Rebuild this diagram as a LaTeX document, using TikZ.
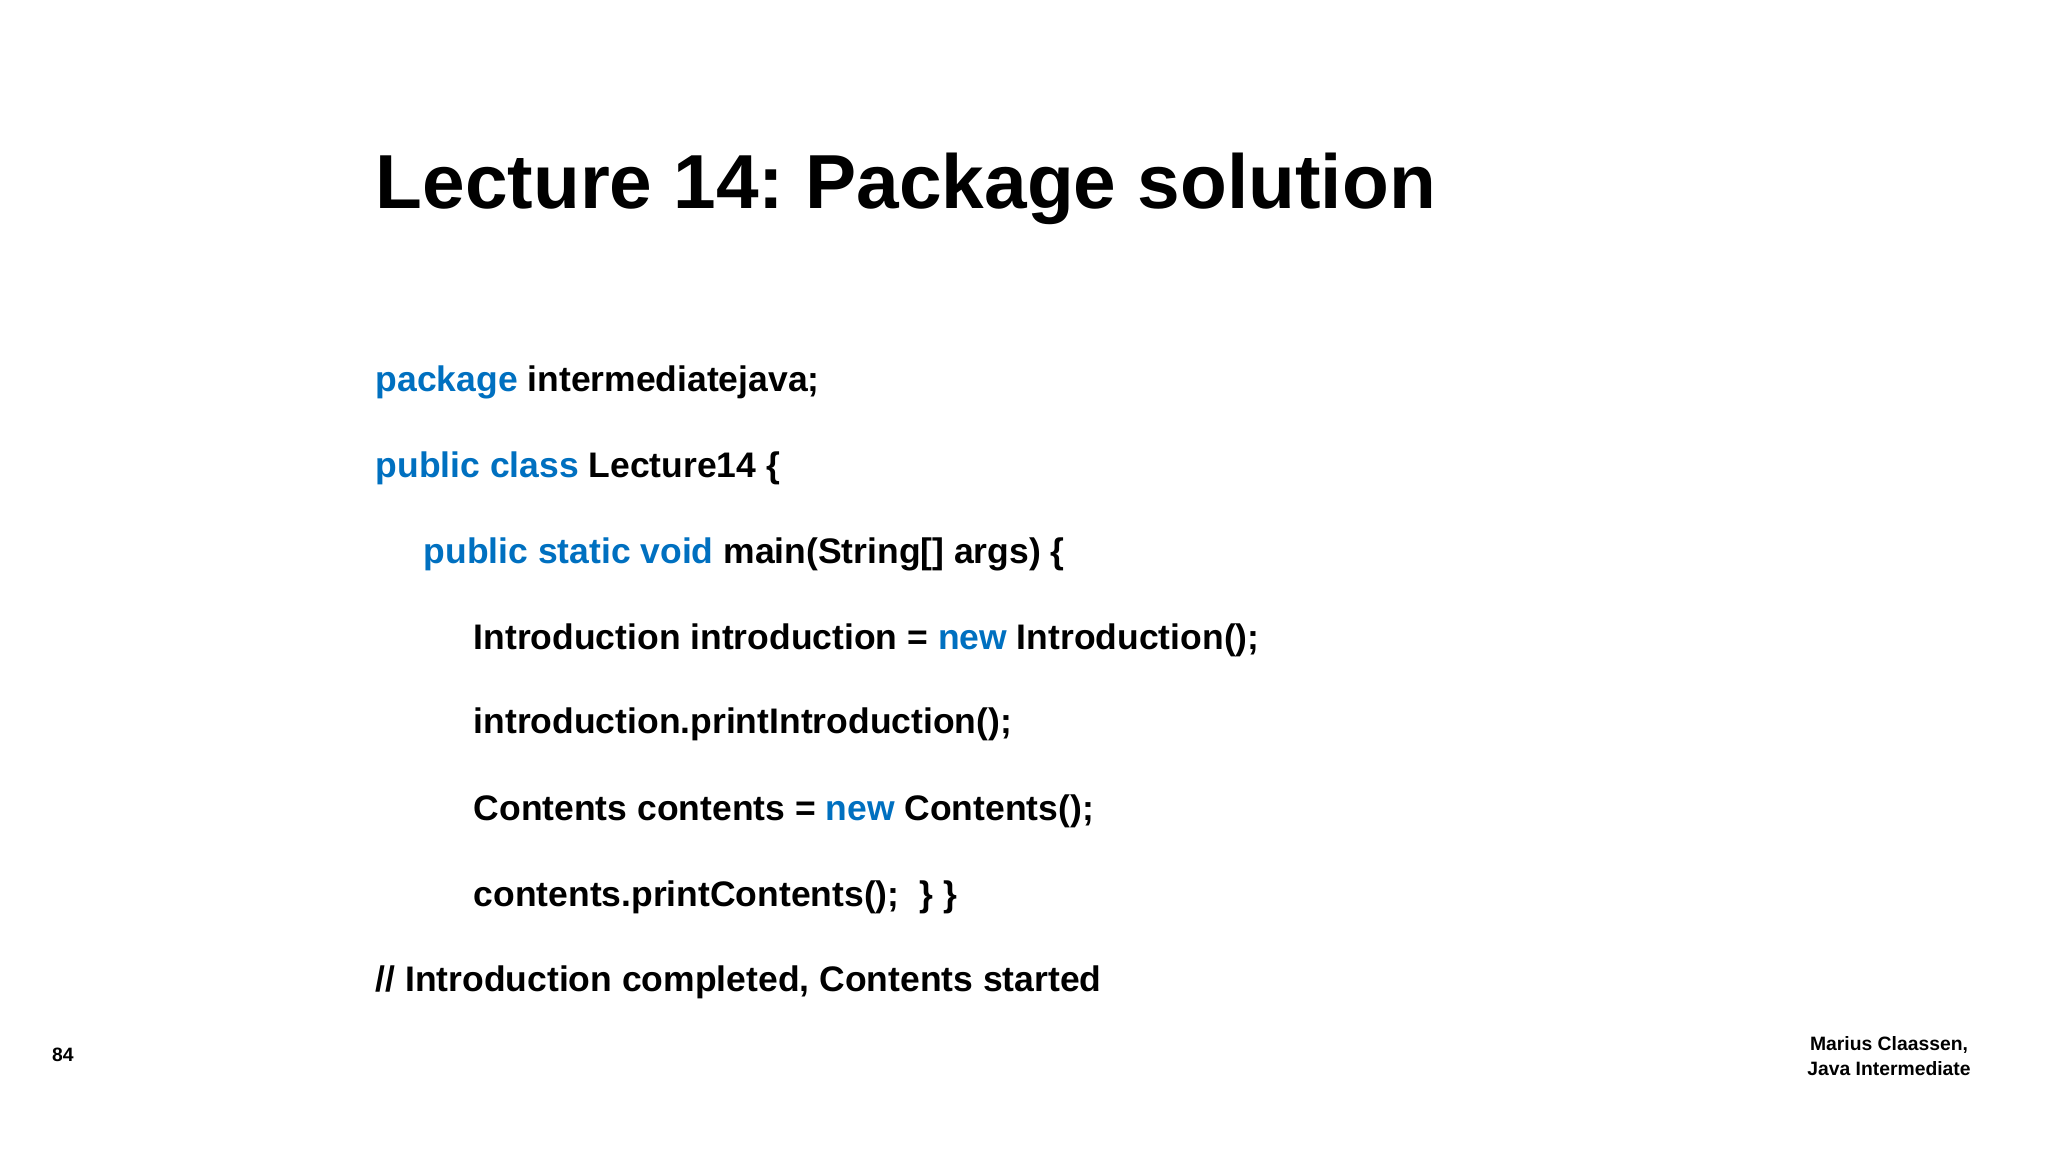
\documentclass[tikz,border=0pt]{standalone}
\usepackage{fontspec}
\setmainfont{Liberation Sans}
\usetikzlibrary{positioning}
\frenchspacing
\definecolor{keywordColor}{RGB}{0,112,192}
\tikzstyle{slideTitle} = [anchor=base west, inner sep=0, font=\fontsize{21.8}{26}\selectfont\bfseries]
\tikzstyle{codeLine} = [anchor=base west, inner sep=0, font=\fontsize{10.1}{12}\selectfont\bfseries]
\tikzstyle{footText} = [inner sep=0, font=\fontsize{5.5}{7}\selectfont\bfseries, align=center]
\newcommand{\kw}[1]{\textcolor{keywordColor}{#1}}
\newcommand{\codeAt}[4]{\node [codeLine] (#1) at (#2, -#3) {#4};}
\begin{document}
\begin{tikzpicture}
  \useasboundingbox (0,0) rectangle (20.48,-11.52);
  \node [slideTitle] (title) at (3.75, -2.09) {Lecture 14: Package solution};
  \codeAt{pkg}{3.75}{3.92}{\kw{package} intermediatejava;}
  \codeAt{cls}{3.75}{4.78}{\kw{public class} Lecture14 \{}
  \codeAt{main}{4.23}{5.63}{\kw{public static void} main(String[] args) \{}
  \codeAt{intro}{4.73}{6.49}{Introduction introduction = \kw{new} Introduction();}
  \codeAt{print}{4.73}{7.34}{introduction.printIntroduction();}
  \codeAt{cont}{4.73}{8.20}{Contents contents = \kw{new} Contents();}
  \codeAt{printc}{4.73}{9.06}{contents.printContents();~~\}~\}}
  \codeAt{note}{3.75}{9.91}{// Introduction completed, Contents started}
  % footer
  \node [footText] (page) at (0.63, -10.55) {84};
  \node [footText] (author) at (18.89, -10.56) {Marius Claassen,\\Java Intermediate};
\end{tikzpicture}
\end{document}
